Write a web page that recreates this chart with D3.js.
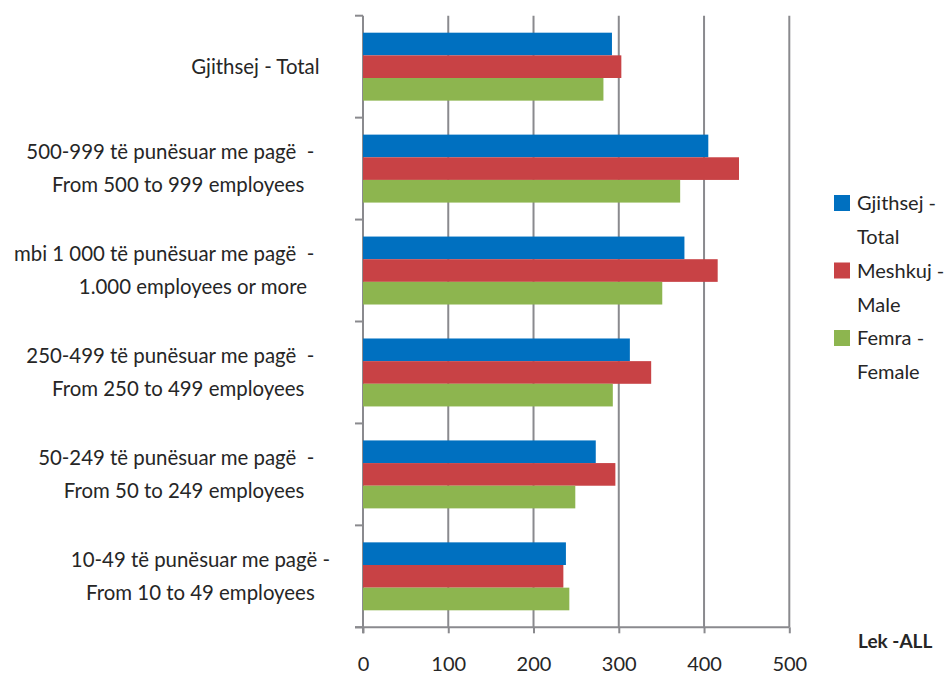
<!DOCTYPE html>
<html>
<head>
<meta charset="utf-8">
<script src="https://cdn.jsdelivr.net/npm/d3@7"></script>
<style>
body{margin:0;background:#fff}
text{font-family:Lato,"Noto Sans",sans-serif;fill:#262626}
</style>
</head>
<body>
<script>
// categories, top to bottom (line breaks as in the original labels)
var categories=[
 ["Gjithsej - Total  "],
 ["500-999 të punësuar me pagë  -   ","From 500 to 999 employees"],
 ["mbi 1 000 të punësuar me pagë  -   ","        1.000 employees or more"],
 ["250-499 të punësuar me pagë  -   ","From 250 to 499 employees"],
 ["50-249 të punësuar me pagë  -   ","From 50 to 249 employees"],
 ["10-49 të punësuar me pagë -","From 10 to 49 employees"]
]
var totalVals=[292,405,377,313,273,238]
var maleVals=[303,441,416,338,296,235]
var femaleVals=[282,372,351,293,249,242]
var seriesNames=[["Gjithsej -","Total"],["Meshkuj -","Male"],["Femra -","Female"]]
var colors=["#0070C0","#C84245","#8DB54F"]
var xTicks=[0,100,200,300,400,500]
var unitLabel="Lek -ALL"

var W=949,H=676
var svg=d3.select("body").append("svg").attr("width",W).attr("height",H)
var top_=15.7,bot=627.3
var x=d3.scaleLinear().domain([0,500]).range([363,789.3])
var y=d3.scaleBand().domain(d3.range(categories.length)).range([top_,bot]).paddingInner(1/3).paddingOuter(1/6)
var ys=d3.scaleBand().domain([0,1,2]).range([0,y.bandwidth()])
var grid="#8a8a8e"

// vertical gridlines
svg.append("g").selectAll("line").data(xTicks.slice(1)).enter().append("line")
.attr("x1",d=>x(d)).attr("x2",d=>x(d)).attr("y1",top_).attr("y2",bot)
.attr("stroke",grid).attr("stroke-width",2)

// bottom axis
var xAxis=svg.append("g").attr("transform","translate(0,"+bot+")")
.call(d3.axisBottom(x).tickValues(xTicks).tickSize(6).tickPadding(24))
xAxis.select(".domain").attr("stroke",grid).attr("stroke-width",2).attr("d","M"+(x(0)-8)+",0H"+x(500))
xAxis.selectAll(".tick line").attr("stroke",grid).attr("stroke-width",2)
xAxis.selectAll(".tick text").attr("font-size",20).attr("font-family","Lato").attr("fill","#262626")

// category axis with ticks between categories
var bounds=d3.range(categories.length+1).map(i=>top_+i*y.step())
svg.append("line").attr("x1",x(0)).attr("x2",x(0)).attr("y1",top_).attr("y2",bot+6)
.attr("stroke",grid).attr("stroke-width",2)
svg.append("g").selectAll("line").data(bounds).enter().append("line")
.attr("x1",x(0)-8).attr("x2",x(0)).attr("y1",d=>d).attr("y2",d=>d)
.attr("stroke",grid).attr("stroke-width",2)

// bars
var series=[totalVals,maleVals,femaleVals]
series.forEach(function(vals,s){
 svg.append("g").selectAll("rect").data(vals).enter().append("rect")
 .attr("x",x(0)).attr("y",(d,i)=>y(i)+ys(s))
 .attr("width",d=>x(d)-x(0)).attr("height",ys.bandwidth())
 .attr("fill",colors[s])
})

// category labels: block right-aligned, lines centred inside it
var labelRight=330,lineGap=33
var lab=svg.append("g").attr("font-size",20.4)
categories.forEach(function(lines,i){
 var cy=y(i)+y.bandwidth()/2
 var t=lab.append("text").attr("xml:space","preserve").attr("text-anchor","middle")
 var tmp=lines.map(function(s){
  var e=lab.append("text").attr("xml:space","preserve").text(s)
  var w=e.node().getComputedTextLength(); e.remove(); return w})
 var bw=d3.max(tmp)
 lines.forEach(function(s,k){
  t.append("tspan").attr("x",labelRight-bw/2)
  .attr("y",cy+(k-(lines.length-1)/2)*lineGap).attr("dy","0.35em").text(s)
 })
})

// legend
var leg=svg.append("g").attr("font-size",20)
seriesNames.forEach(function(n,s){
 var cy=203+s*67.5
 leg.append("rect").attr("x",834).attr("y",cy-8).attr("width",16).attr("height",16).attr("fill",colors[s])
 n.forEach(function(line,k){
  leg.append("text").attr("x",857).attr("y",cy+k*34).attr("dy","0.35em").text(line)
 })
})

// unit label
svg.append("text").attr("x",858).attr("y",648).attr("font-size",19).attr("font-weight","bold").text(unitLabel)
</script>
</body>
</html>
